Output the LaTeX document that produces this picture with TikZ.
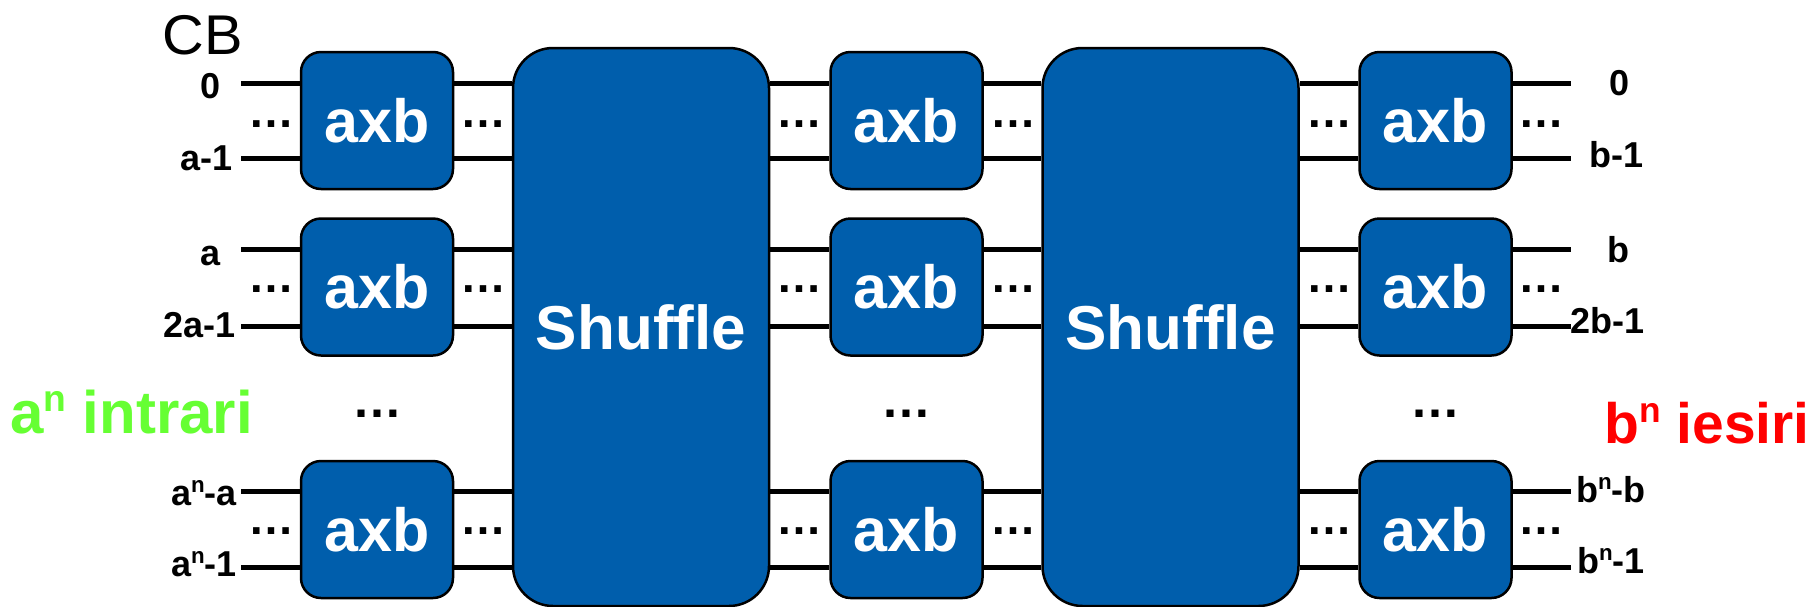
\documentclass[tikz,border=0pt]{standalone}
\usepackage{fontspec}
\usepackage{graphicx}
\setmainfont{Liberation Sans}
\newfontfamily\cbfont{Liberation Sans}[FakeStretch=1.03]
\definecolor{swblue}{RGB}{0,94,172}
\definecolor{ingreen}{RGB}{102,255,51}
\definecolor{outred}{RGB}{255,0,0}
% small raised exponent
\newcommand\expo[1]{\raisebox{0.36em}{\scalebox{0.62}{#1}}}

\begin{document}
\begin{tikzpicture}[x=1pt,y=-1pt,
  swbox/.style={draw=black,line width=2.5pt,fill=swblue,rounded corners=20pt,
    minimum width=152pt,minimum height=137pt,inner sep=0pt,text=white,
    font=\bfseries\fontsize{61}{66}\selectfont},
  shufbox/.style={draw=black,line width=2.5pt,fill=swblue,rounded corners=40pt,
    minimum width=256pt,minimum height=558pt,inner sep=0pt,text=white,
    font=\bfseries\fontsize{62}{70}\selectfont},
  wire/.style={line width=5pt},
  pin/.style={font=\bfseries\fontsize{36}{40}\selectfont,inner sep=0pt,anchor=base east},
  gapdots/.style={font=\bfseries\fontsize{46}{50}\selectfont,inner sep=0pt},
  bigdots/.style={font=\bfseries\fontsize{50}{54}\selectfont,inner sep=0pt},
  count/.style={inner sep=0pt,anchor=base west},
]
\useasboundingbox (0,0) rectangle (1806,606);

% title
\node[font=\cbfont\fontsize{56}{60}\selectfont,inner sep=0pt] (cb) at (202.5,35) {CB};

% two shuffle stages
\node[shufbox] (S1) at (641,327) {Shuffle};
\node[shufbox] (S2) at (1170.5,327) {Shuffle};

% three columns of axb switches
\foreach \g/\y in {1/120.5,2/287,3/529.5}{
  \node[swbox] (L\g) at (377,\y) {axb};
  \node[swbox] (M\g) at (906.5,\y) {axb};
  \node[swbox] (R\g) at (1435.5,\y) {axb};
}

% wire ends
\foreach \r/\y in {1/83,2/158,3/249,4/326,5/491,6/567}{
  \coordinate (i\r) at (241,\y);
  \coordinate (o\r) at (1571,\y);
}

% wires through every stage
\foreach \r/\g in {1/1,2/1,3/2,4/2,5/3,6/3}{
  \draw[wire] (i\r) -- (i\r -| L\g.west)
              (i\r -| L\g.east) -- (i\r -| S1.west)
              (i\r -| S1.east) -- (i\r -| M\g.west)
              (i\r -| M\g.east) -- (i\r -| S2.west)
              (i\r -| S2.east) -- (i\r -| R\g.west)
              (i\r -| R\g.east) -- (o\r);
}

% dots between the two wires of each switch
\foreach \g/\y in {1/124,2/289.5,3/531}{
  \foreach \x/\n in {271/a,483/b,799/c,1013/d,1329/e,1541/f}{
    \node[gapdots] (d\g\n) at (\x,\y) {…};
  }
}

% dots between switch rows
\node[bigdots] (vL) at (377,414) {…};
\node[bigdots] (vM) at (906.5,414) {…};
\node[bigdots] (vR) at (1435.5,414) {…};

% input labels
\node[pin] (li1) at (221,98) {0};
\node[pin] (li2) at (233,170) {a-1};
\node[pin] (li3) at (221,265) {a};
\node[pin] (li4) at (236,337) {2a-1};
\node[pin] (li5) at (237,505) {a\expo{n}-a};
\node[pin] (li6) at (237,576) {a\expo{n}-1};

% output labels
\node[pin] (lo1) at (1630,95) {0};
\node[pin] (lo2) at (1644,167) {b-1};
\node[pin] (lo3) at (1630,262) {b};
\node[pin] (lo4) at (1645,333) {2b-1};
\node[pin] (lo5) at (1646,502) {b\expo{n}-b};
\node[pin] (lo6) at (1645,573) {b\expo{n}-1};

% totals
\node[count,text=ingreen,font=\bfseries\fontsize{60}{66}\selectfont] (nin) at (10,433)
  {a\expo{n} intrari};
\node[count,text=outred,font=\bfseries\fontsize{57}{62}\selectfont] (nout) at (1604,443)
  {b\expo{n} iesiri};
\end{tikzpicture}
\end{document}
